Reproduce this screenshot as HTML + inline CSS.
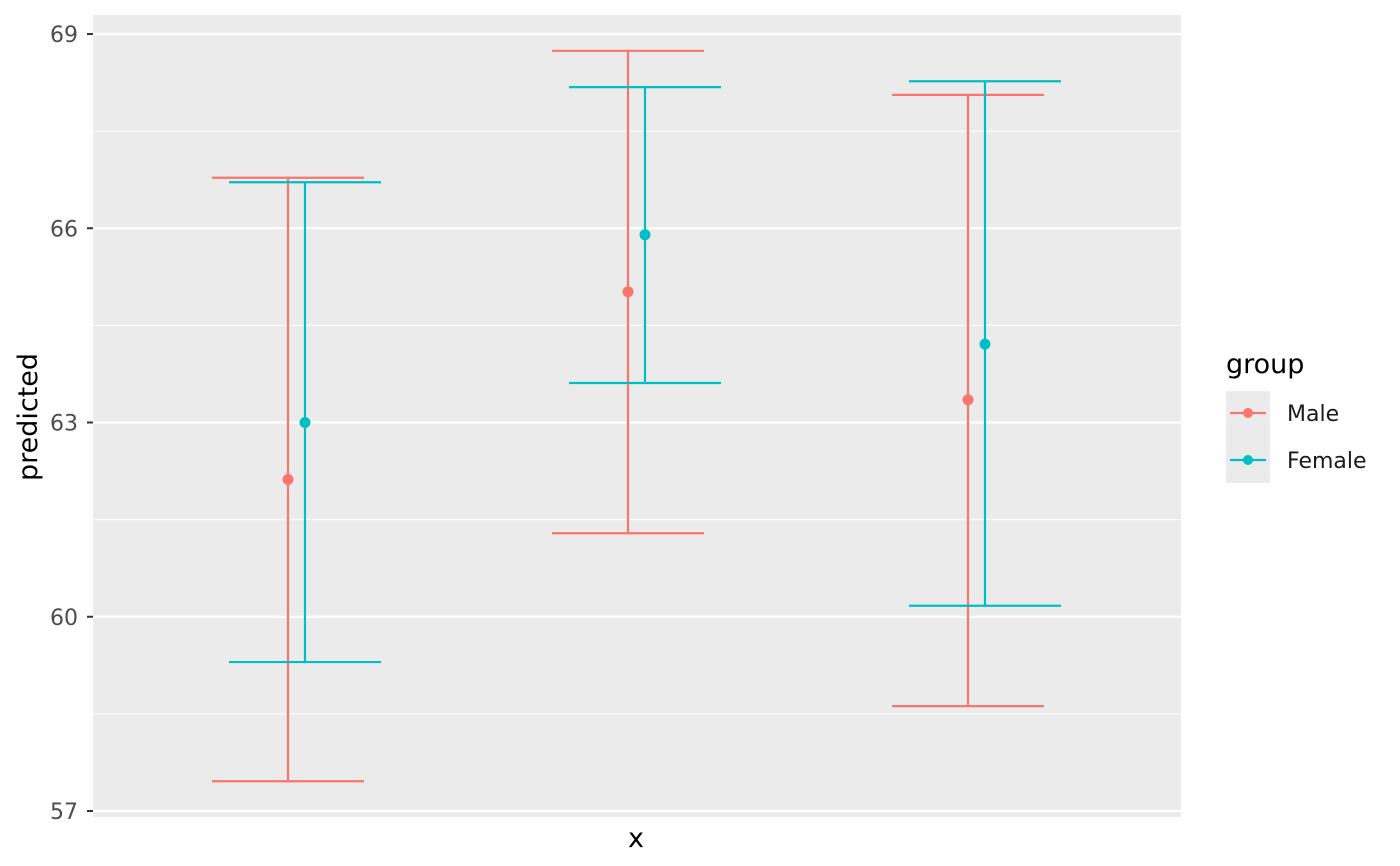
<!DOCTYPE html>
<html><head><meta charset="utf-8"><style>
body{margin:0;background:#fff;}
svg{display:block;font-family:"DejaVu Sans","Liberation Sans",sans-serif;}
</style></head><body>
<svg id="chart" width="1400" height="866">
<rect x="93" y="15" width="1088" height="802" fill="#EBEBEB"/>
<g id="grid"></g>
<g id="axes"></g>
<g id="marks"></g>
<text x="636" y="847" font-size="27" text-anchor="middle" fill="#000">x</text>
<text transform="translate(37,417) rotate(-90)" font-size="27" text-anchor="middle" fill="#000">predicted</text>
<g>
<text x="1226" y="373" font-size="27" fill="#000">group</text>
<rect x="1226" y="391" width="44" height="92" fill="#EBEBEB"/>
<g>
<line x1="1230" x2="1266" y1="413" y2="413" stroke="#F8766D" stroke-width="2.2"/>
<circle cx="1248" cy="413" r="5" fill="#F8766D"/>
<text x="1287" y="421" font-size="22" fill="#1a1a1a">Male</text></g>
<g>
<line x1="1230" x2="1266" y1="460" y2="460" stroke="#00BFC4" stroke-width="2.2"/>
<circle cx="1248" cy="460" r="5" fill="#00BFC4"/>
<text x="1287" y="468" font-size="22" fill="#1a1a1a">Female</text></g>
</g>
</svg>
<script>
const categories = [1, 2, 3];
const groups = ["Male", "Female"];
const colors = ["#F8766D", "#00BFC4"];
const malePred = [62.12, 65.02, 63.35];
const maleLow = [57.46, 61.29, 58.62];
const maleHigh = [66.78, 68.74, 68.06];
const femalePred = [63.0, 65.9, 64.21];
const femaleLow = [59.3, 63.61, 60.17];
const femaleHigh = [66.71, 68.18, 68.27];
const yTicks = [57, 60, 63, 66, 69];

const NS = "http://www.w3.org/2000/svg";
const y = v => 34 + (69 - v) * 64.75;
const x = c => 93 + (c - 0.4) * 340;
function mk(tag, attrs, parent){const e=document.createElementNS(NS,tag);for(const k in attrs)e.setAttribute(k,attrs[k]);parent.appendChild(e);return e;}
const grid=document.getElementById('grid'), axes=document.getElementById('axes'), marks=document.getElementById('marks');
for(let i=0;i<yTicks.length;i++){
  const v=yTicks[i];
  const l=mk('line',{x1:93,x2:1181,y1:y(v),y2:y(v),stroke:'#fff','stroke-width':2.2},grid);
  
  
  if(i<yTicks.length-1){const m=(v+yTicks[i+1])/2;
    const l2=mk('line',{x1:93,x2:1181,y1:y(m),y2:y(m),stroke:'#fff','stroke-width':1.1},grid);
    
    }
  const t=mk('line',{x1:87,x2:93,y1:y(v),y2:y(v),stroke:'#333','stroke-width':2},axes);
  
  
  const tx=mk('text',{x:78,y:y(v)+8,'font-size':22,'text-anchor':'end',fill:'#4d4d4d'},axes);
  tx.textContent=v;
  
  
}
const series=[[malePred,maleLow,maleHigh],[femalePred,femaleLow,femaleHigh]];
const offs=[-9,8];
series.forEach((s,gi)=>{
  categories.forEach((c,ci)=>{
    const cx=x(c)+offs[gi], col=colors[gi];
    const g=mk('g',{},marks);
    
    
    mk('line',{x1:cx,x2:cx,y1:y(s[2][ci]),y2:y(s[1][ci]),stroke:col,'stroke-width':2.2},g);
    mk('line',{x1:cx-76,x2:cx+76,y1:y(s[2][ci]),y2:y(s[2][ci]),stroke:col,'stroke-width':2.2},g);
    mk('line',{x1:cx-76,x2:cx+76,y1:y(s[1][ci]),y2:y(s[1][ci]),stroke:col,'stroke-width':2.2},g);
    mk('circle',{cx:cx,cy:y(s[0][ci]),r:5.5,fill:col},g);
  });
});
</script>
</body></html>
